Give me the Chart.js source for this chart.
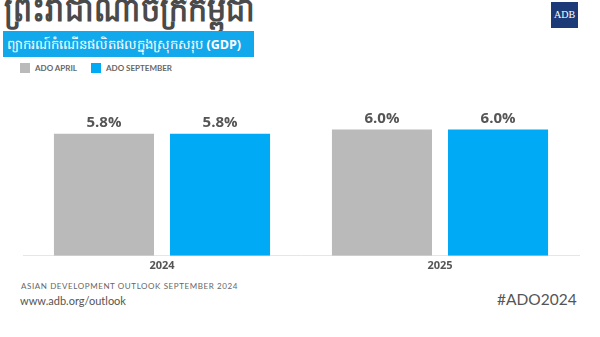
<!DOCTYPE html>
<html>
<head>
<meta charset="utf-8">
<script src="https://cdn.jsdelivr.net/npm/chart.js@4"></script>
<style>
  html, body { margin: 0; padding: 0; background: #fff; }
  body { width: 600px; height: 337px; position: relative; overflow: hidden; font-family: Lato, "Open Sans", sans-serif; }
  .title { position: absolute; left: 4px; top: -13px; font-size: 30px; font-weight: bold; color: #4a4a4a; white-space: nowrap;
    transform: scaleY(1.12); transform-origin: left top; }
  .logo { position: absolute; left: 551px; top: 2px; width: 27px; height: 26px; background: #1d3a78; color: #fff;
    font-family: "Liberation Serif", serif; font-size: 10px; line-height: 26px; text-align: center; }
  .band { position: absolute; left: 3px; top: 31px; width: 251px; height: 26px; background: #12a9ec; color: #fff;
    font-size: 13.2px; line-height: 26px; padding-left: 4px; box-sizing: border-box; white-space: nowrap; }
  .band b { font-family: "Open Sans", sans-serif; font-size: 12.5px; }
  .legend { position: absolute; top: 63px; font-size: 8px; font-weight: bold; color: #666; display: flex; align-items: center; }
  .legend i { display: inline-block; width: 10px; height: 10px; margin-right: 5px; }
  .chart-box { position: absolute; left: 0; top: 100px; width: 600px; height: 175px; }
  .src { position: absolute; left: 21px; top: 281px; font-size: 8px; color: #666; letter-spacing: 0.6px; }
  .url { position: absolute; left: 20px; top: 294px; font-size: 11px; color: #555; }
  .tag { position: absolute; left: 497px; top: 290px; font-size: 15.5px; color: #555; }
</style>
</head>
<body>
<div class="title">ព្រះរាជាណាចក្រកម្ពុជា</div>
<div class="logo">ADB</div>
<div class="band">ព្យាករណ៍កំណើនផលិតផលក្នុងស្រុកសរុប <b>(GDP)</b></div>
<div class="legend" style="left:20px"><i style="background:#bababa"></i>ADO APRIL</div>
<div class="legend" style="left:91px"><i style="background:#00aaf5"></i>ADO SEPTEMBER</div>
<div class="chart-box"><canvas id="chart"></canvas></div>
<div class="src">ASIAN DEVELOPMENT OUTLOOK SEPTEMBER 2024</div>
<div class="url">www.adb.org/outlook</div>
<div class="tag">#ADO2024</div>

<script>
const years = ['2024', '2025']
const adoApril = [5.8, 6.0]
const adoSeptember = [5.8, 6.0]

// writes the value above each bar
const valueLabels = {
  id: 'valueLabels',
  afterDatasetsDraw: function (chart) {
    const ctx = chart.ctx
    ctx.save()
    ctx.font = 'bold 15px "Open Sans", sans-serif'
    ctx.fillStyle = '#555'
    ctx.textAlign = 'center'
    ctx.textBaseline = 'bottom'
    chart.data.datasets.forEach((ds, i) => {
      chart.getDatasetMeta(i).data.forEach((bar, j) => {
        ctx.fillText(ds.data[j].toFixed(1) + '%', bar.x, bar.y - 3)
      })
    })
    ctx.restore()
  }
}

new Chart(document.getElementById('chart').getContext('2d'), {
  type: 'bar',
  data: {
    labels: years,
    datasets: [{
      label: 'ADO APRIL',
      data: adoApril,
      backgroundColor: '#bababa',
      barPercentage: 0.862,
      categoryPercentage: 0.835
    }, {
      label: 'ADO SEPTEMBER',
      data: adoSeptember,
      backgroundColor: '#00aaf5',
      barPercentage: 0.862,
      categoryPercentage: 0.835
    }]
  },
  options: {
    responsive: true,
    maintainAspectRatio: false,
    animation: false,
    layout: { padding: { left: 23, right: 21, top: 0, bottom: 0 } },
    plugins: {
      legend: { display: false },
      tooltip: { enabled: false }
    },
    scales: {
      x: {
        grid: { display: false, drawTicks: false },
        border: { color: '#e6e6e6' },
        ticks: {
          padding: 3,
          color: '#555',
          font: { family: '"Open Sans", sans-serif', size: 11, weight: 'bold' }
        }
      },
      y: {
        display: false,
        min: 0,
        max: 7.4
      }
    }
  },
  plugins: [valueLabels]
})
</script>
</body>
</html>
